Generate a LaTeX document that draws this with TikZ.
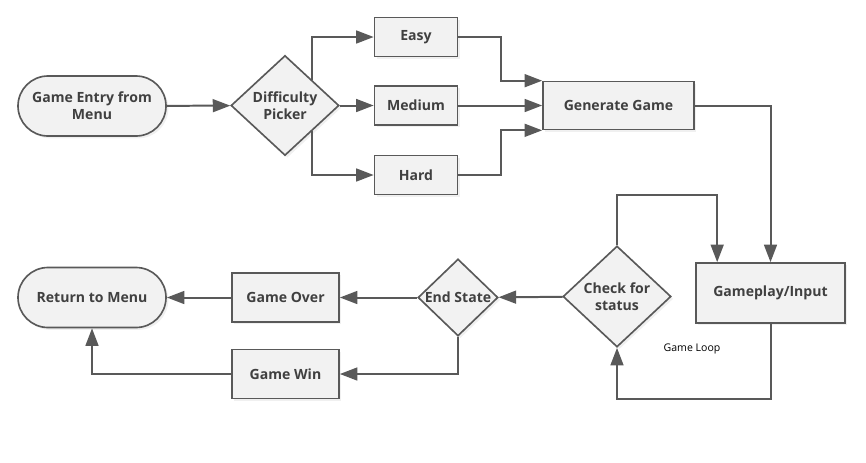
\documentclass[tikz,border=0pt]{standalone}
\usepackage{fontspec}
\setmainfont{Open Sans}
\usetikzlibrary{calc, shapes.geometric, arrows.meta, shadows}
\definecolor{BoxFill}{HTML}{F2F2F2}
\definecolor{LineGrey}{HTML}{595959}
\definecolor{TextGrey}{HTML}{404040}
\tikzset{
    basebox/.style={draw=LineGrey, fill=BoxFill, line width=1.4pt, text=TextGrey,
        font=\fontsize{12}{14.5}\selectfont\bfseries, align=center, inner sep=0pt,
        drop shadow={opacity=0.12, shadow xshift=2pt, shadow yshift=-2pt}},
    flowbox/.style={basebox, rectangle, minimum width=#1, minimum height=1.17cm},
    terminal/.style={basebox, rectangle, rounded corners=0.9cm, minimum width=4.44cm, minimum height=1.8cm},
    decision/.style={basebox, diamond, aspect=1.1},
    flowline/.style={draw=LineGrey, line width=1.7pt, -{Triangle[length=15pt,width=11pt]}}
}
\begin{document}
\begin{tikzpicture}[x=0.03cm, y=-0.03cm]
    \useasboundingbox (0,0) rectangle (866,462);

    % Start and difficulty choice
    \node[terminal] (entry) at (92,106) {Game Entry from\\Menu};
    \node[decision, minimum width=3.24cm, minimum height=3.0cm] (picker) at (285,105.5) {Difficulty\\Picker};
    \node[flowbox=2.49cm] (easy) at (416,37) {Easy};
    \node[flowbox=2.49cm] (medium) at (416,105.5) {Medium};
    \node[flowbox=2.49cm] (hard) at (416,175) {Hard};
    \node[flowbox=4.53cm, minimum height=1.44cm] (gen) at (618.5,105.5) {Generate Game};

    % Game loop
    \node[flowbox=4.47cm, minimum height=1.8cm] (play) at (770.5,293) {Gameplay/Input};
    \node[decision, minimum width=3.24cm, minimum height=3.03cm] (check) at (617,296.5) {Check for\\status};
    \node[font=\fontsize{9}{11}\selectfont, text=black] (looplabel) at (692,349) {Game Loop};
    \coordinate (loopin) at ($(play.north west)+(22,0)$);

    % Ending
    \node[decision, minimum width=2.4cm, minimum height=2.31cm] (endst) at (458,297.5) {End State};
    \node[flowbox=3.21cm, minimum height=1.47cm] (over) at (285.5,297.5) {Game Over};
    \node[flowbox=3.21cm, minimum height=1.47cm] (win) at (285.5,374) {Game Win};
    \node[terminal] (ret) at (92,297.5) {Return to Menu};

    \draw[flowline] (entry) -- (picker);
    \draw[flowline] (picker.north east) |- (easy);
    \draw[flowline] (picker) -- (medium);
    \draw[flowline] (picker.south east) |- (hard);
    \draw[flowline] (easy.east) -- ++(43,0) |- (gen.north west);
    \draw[flowline] (medium) -- (gen);
    \draw[flowline] (hard.east) -- ++(43,0) |- (gen.south west);
    \draw[flowline] (gen.east) -| (play.north);
    \draw[flowline] (check.north) -- ++(0,-50) -| (loopin);
    \draw[flowline] (play.south) -- ++(0,75) -| (check.south);
    \draw[flowline] (check) -- (endst);
    \draw[flowline] (endst) -- (over);
    \draw[flowline] (endst.south) |- (win);
    \draw[flowline] (over) -- (ret);
    \draw[flowline] (win) -| (ret.south);
\end{tikzpicture}
\end{document}
